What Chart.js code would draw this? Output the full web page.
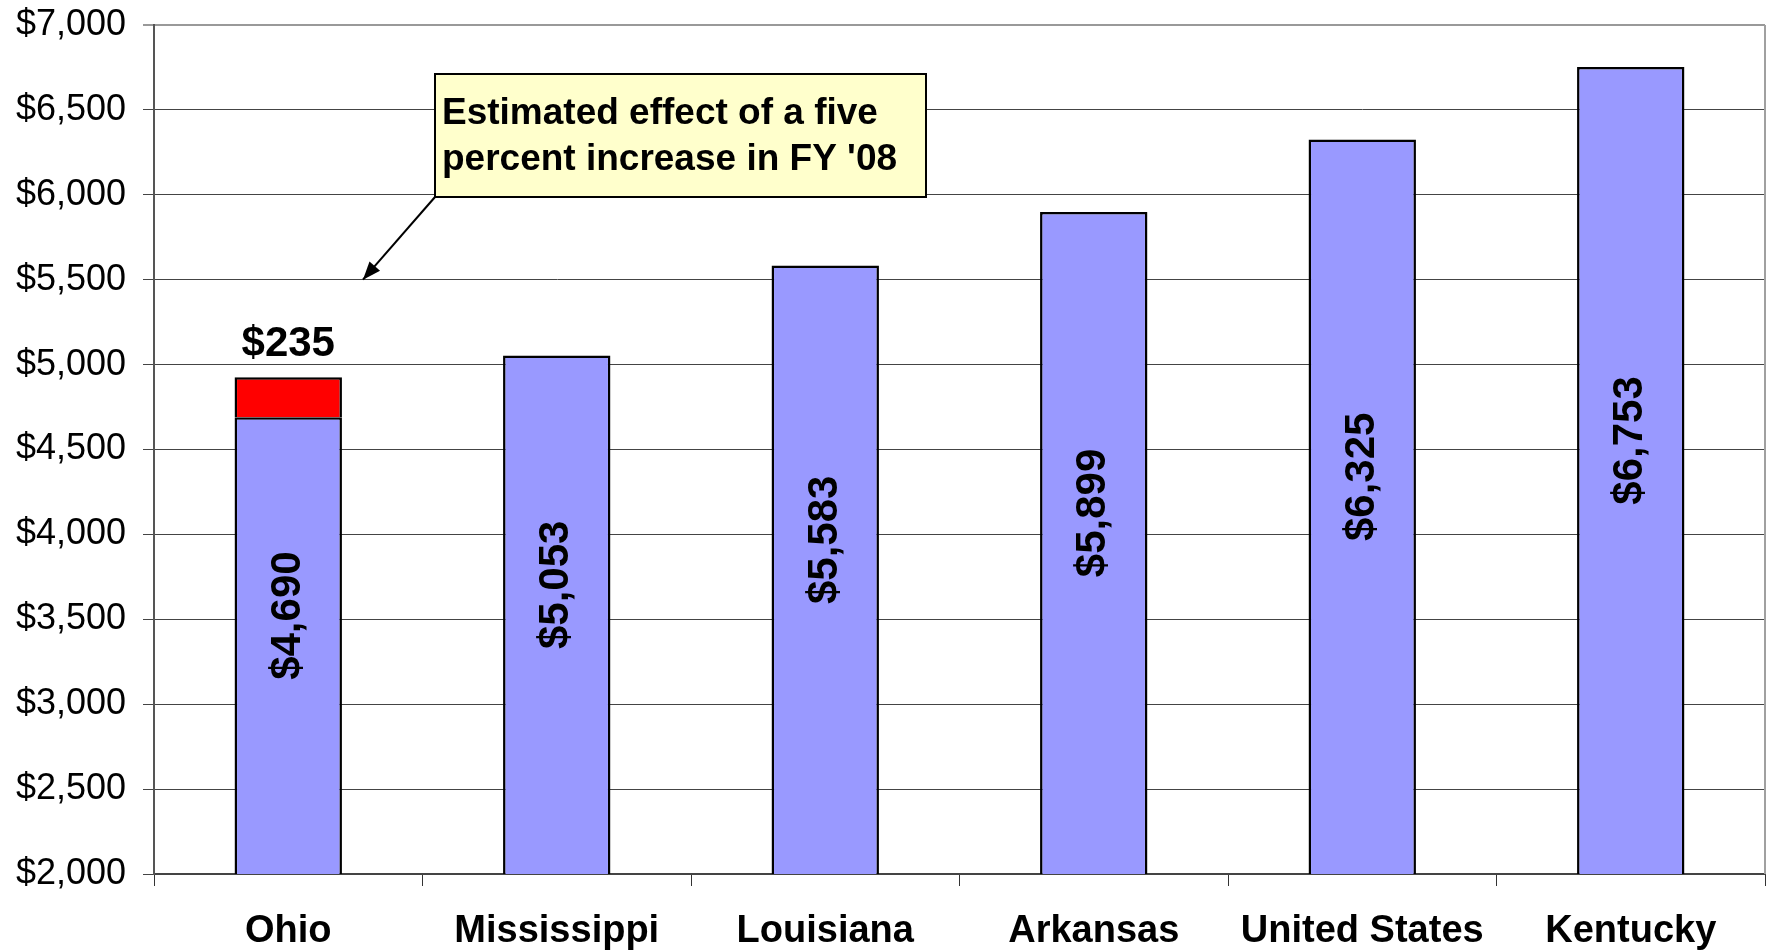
<!DOCTYPE html>
<html>
<head>
<meta charset="utf-8">
<script src="https://cdn.jsdelivr.net/npm/chart.js@4/dist/chart.umd.min.js"></script>
<style>
  html, body { margin: 0; padding: 0; background: #fff; }
  canvas { display: block; }
</style>
</head>
<body>
<canvas id="chart-canvas" width="1766" height="951"></canvas>
<script>
// Per-pupil spending comparison, with the FY '08 increase stacked on Ohio

const states = ['Ohio', 'Mississippi', 'Louisiana', 'Arkansas', 'United States', 'Kentucky'];
const baseCost = [4690, 5053, 5583, 5899, 6325, 6753];
const increase = [235, null, null, null, null, null];
const noteLines = ['Estimated effect of a five', "percent increase in FY '08"];

const FONT = '"Liberation Sans", Arial, sans-serif';

function money(v) {
  return '$' + v.toLocaleString('en-US');
}

// Draws the value labels and the call-out box
const labelPlugin = {
  id: 'barLabels',
  beforeDatasetsDraw(chart) {
    // right-hand border of the plot area
    const a = chart.chartArea;
    const ctx = chart.ctx;
    ctx.save();
    ctx.strokeStyle = '#a0a0a0';
    ctx.lineWidth = 2;
    ctx.beginPath();
    ctx.moveTo(a.right, a.top);
    ctx.lineTo(a.right, a.bottom);
    ctx.stroke();
    ctx.restore();
  },
  afterDatasetsDraw(chart) {
    const ctx = chart.ctx;
    const a = chart.chartArea;
    const yScale = chart.scales.y;

    ctx.save();
    ctx.fillStyle = '#000';
    ctx.textAlign = 'center';

    // rotated labels inside the bars
    ctx.font = 'bold 42px ' + FONT;
    ctx.textBaseline = 'middle';
    const meta = chart.getDatasetMeta(0);
    meta.data.forEach((bar, i) => {
      const bottom = Math.min(bar.base, a.bottom);
      const mid = (bar.y + bottom) / 2 - 30;
      ctx.save();
      ctx.translate(bar.x, mid);
      ctx.rotate(-Math.PI / 2);
      ctx.fillText(money(baseCost[i]), 0, 0);
      ctx.restore();
    });

    // label above the increase segment
    ctx.textBaseline = 'alphabetic';
    const incMeta = chart.getDatasetMeta(1);
    incMeta.data.forEach((bar, i) => {
      if (increase[i] == null) return;
      ctx.fillText(money(increase[i]), bar.x, bar.y - 21);
    });

    // call-out box
    const ohio = meta.data[0];
    const boxX = a.left + 281;
    const boxY = 74;
    const boxW = 491;
    const boxH = 123;
    ctx.fillStyle = '#ffffcc';
    ctx.fillRect(boxX, boxY, boxW, boxH);
    ctx.strokeStyle = '#000';
    ctx.lineWidth = 2;
    ctx.strokeRect(boxX, boxY, boxW, boxH);

    ctx.fillStyle = '#000';
    ctx.font = 'bold 37px ' + FONT;
    ctx.textAlign = 'left';
    ctx.fillText(noteLines[0], boxX + 7, boxY + 50);
    ctx.fillText(noteLines[1], boxX + 7, boxY + 96);

    // arrow from the box corner down toward the Ohio bar
    const tipX = ohio.x + ohio.width / 2 + 21;
    const tipY = yScale.getPixelForValue(5500);
    const sx = boxX;
    const sy = boxY + boxH;
    ctx.beginPath();
    ctx.moveTo(sx, sy);
    ctx.lineTo(tipX, tipY);
    ctx.lineWidth = 2;
    ctx.stroke();
    const ang = Math.atan2(tipY - sy, tipX - sx);
    const len = 18, half = 7;
    ctx.beginPath();
    ctx.moveTo(tipX, tipY);
    ctx.lineTo(tipX - len * Math.cos(ang) + half * Math.sin(ang),
               tipY - len * Math.sin(ang) - half * Math.cos(ang));
    ctx.lineTo(tipX - len * Math.cos(ang) - half * Math.sin(ang),
               tipY - len * Math.sin(ang) + half * Math.cos(ang));
    ctx.closePath();
    ctx.fill();

    ctx.restore();
  },
};

const chartCtx = document.getElementById('chart-canvas').getContext('2d');
const combinedChart = new Chart(chartCtx, {
  type: 'bar',
  data: {
    labels: states,
    datasets: [
      {
        label: 'Spending',
        data: baseCost,
        backgroundColor: '#9999ff',
        borderColor: '#000',
        borderWidth: 2.5,
        borderSkipped: false,
      },
      {
        label: 'Increase',
        data: increase,
        backgroundColor: '#ff0000',
        borderColor: '#000',
        borderWidth: 2.5,
        borderSkipped: 'bottom',
      },
    ],
  },
  options: {
    responsive: false,
    animation: false,
    layout: {
      padding: { top: 25, right: 1, left: 0, bottom: 0 },
    },
    datasets: {
      bar: {
        categoryPercentage: 1,
        barPercentage: 0.4,
      },
    },
    plugins: {
      legend: { display: false },
      title: { display: false },
      tooltip: { enabled: false },
    },
    scales: {
      x: {
        stacked: true,
        offset: true,
        grid: {
          offset: true,
          drawOnChartArea: false,
          tickLength: 12,
          color: '#333',
          lineWidth: 1,
        },
        border: { color: '#444', width: 2 },
        ticks: {
          color: '#000',
          padding: 23,
          font: { family: FONT, size: 38, weight: 'bold' },
          maxRotation: 0,
          autoSkip: false,
        },
        afterFit(scale) {
          scale.height = 77;
          scale.paddingLeft = 0;
          scale.paddingRight = 0;
        },
      },
      y: {
        stacked: true,
        min: 2000,
        max: 7000,
        ticks: {
          stepSize: 500,
          color: '#000',
          padding: 17,
          font: { family: FONT, size: 36 },
          callback: (v) => money(v),
        },
        grid: {
          tickLength: 11,
          color: (c) => (c.tick && c.tick.value === 7000 ? '#999' : '#444'),
          lineWidth: (c) => (c.tick && c.tick.value === 7000 ? 2 : 1),
        },
        border: { color: '#555', width: 2 },
        afterFit(scale) {
          scale.width = 154;
          scale.paddingTop = 0;
          scale.paddingBottom = 0;
        },
      },
    },
  },
  plugins: [labelPlugin],
});
</script>
</body>
</html>
